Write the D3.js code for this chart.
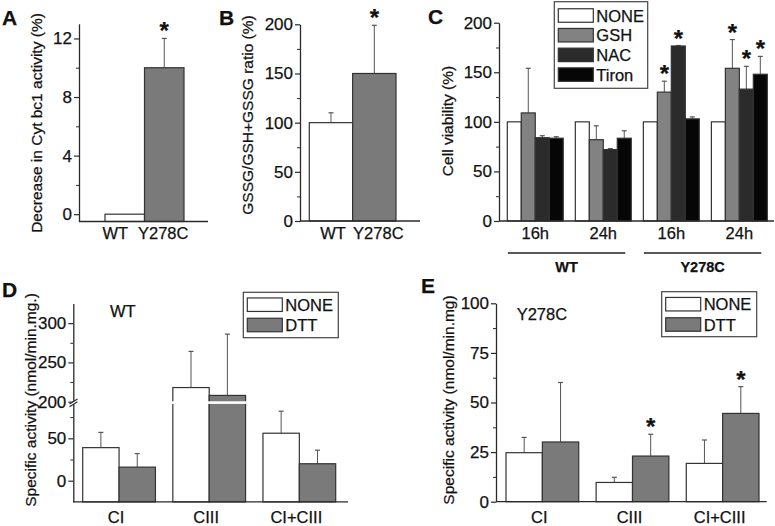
<!DOCTYPE html>
<html><head><meta charset="utf-8">
<script src="https://cdn.jsdelivr.net/npm/d3@7"></script>
<style>
body{margin:0;background:#fff}
text{font-family:"Liberation Sans",Arial,sans-serif;fill:#111;stroke:#111;stroke-width:0.25px}
</style></head><body>
<svg id="chart" width="775" height="526"></svg>
<script>
// ---------------- DATA ----------------
// Panel A
const aCategories = ["WT", "Y278C"];
const aValues = [0, 10];
const aErrors = [0, 2];
const aStars = [false, true];
const aTicks = [0, 4, 8, 12];
const aMinorTicks = [2, 6, 10];
// Panel B
const bCategories = ["WT", "Y278C"];
const bValues = [100, 150];
const bErrors = [10, 49];
const bStars = [false, true];
const bTicks = [0, 50, 100, 150, 200];
const bMinorTicks = [25, 75, 125, 175];
// Panel C
const cTimes = ["16h", "24h", "16h", "24h"];
const cStrains = ["WT", "Y278C"];
const cSeries = ["NONE", "GSH", "NAC", "Tiron"];
const cNone = [100, 100, 100, 100];
const cGsh = [109, 82, 130, 154];
const cNac = [84, 72, 176.5, 133];
const cTiron = [83.5, 83.5, 103, 148];
const cNoneErr = [0, 0, 0, 0];
const cGshErr = [45, 14, 11, 29];
const cNacErr = [2, 1, 0.5, 23];
const cTironErr = [1.5, 7.5, 2, 18];
const cNoneStars = [false, false, false, false];
const cGshStars = [false, false, true, true];
const cNacStars = [false, false, true, true];
const cTironStars = [false, false, false, true];
const cTicks = [0, 50, 100, 150, 200];
const cMinorTicks = [25, 75, 125, 175];
// Panel D (WT)
const dCategories = ["CI", "CIII", "CI+CIII"];
const dSeries = ["NONE", "DTT"];
const dNone = [39, 218, 56];
const dDtt = [16, 208, 20];
const dNoneErr = [18, 46, 26];
const dDttErr = [16, 78, 16];
const dTicks = [0, 50, 200, 250, 300];
const dMinorTicks = [25, 75, 225, 275];
// Panel E (Y278C)
const eCategories = ["CI", "CIII", "CI+CIII"];
const eSeries = ["NONE", "DTT"];
const eNone = [24.7, 9.7, 19.3];
const eDtt = [30.1, 23, 44.5];
const eNoneErr = [7.7, 2.6, 11.8];
const eDttErr = [30, 11, 13.5];
const eNoneStars = [false, false, false];
const eDttStars = [false, true, true];
const eTicks = [0, 25, 50, 75, 100];
const eMinorTicks = [12.5, 37.5, 62.5, 87.5];

// ---------------- STYLE ----------------
const fillOf = {NONE: "#ffffff", GSH: "#828282", NAC: "#2b2b2b", Tiron: "#060606", DTT: "#7a7a7a", WT: "#ffffff", Y278C: "#7a7a7a"};
const axisColor = "#2a2a2a";
const barStroke = "#333";
const errColor = "#555";

const svg = d3.select("#chart");

function yAxis(g, x, y, ticks, minor) {
  const ax = g.append("g").attr("transform", `translate(${x},0)`)
    .call(d3.axisLeft(y).tickValues(ticks).tickSize(5).tickSizeOuter(0).tickPadding(2).tickFormat(d3.format("d")));
  ax.select(".domain").attr("stroke", axisColor).attr("stroke-width", 1.3);
  ax.selectAll(".tick line").attr("stroke", axisColor).attr("stroke-width", 1.2);
  ax.selectAll(".tick text").attr("font-size", 17).attr("font-family", "Liberation Sans, Arial, sans-serif").attr("fill", "#111");
  const mn = g.append("g").attr("transform", `translate(${x},0)`)
    .call(d3.axisLeft(y).tickValues(minor).tickSize(3).tickFormat(""));
  mn.select(".domain").remove();
  mn.selectAll(".tick line").attr("stroke", axisColor).attr("stroke-width", 1);
  return ax;
}
function xLine(g, x1, x2, yy) {
  g.append("line").attr("x1", x1).attr("x2", x2).attr("y1", yy).attr("y2", yy)
    .attr("stroke", axisColor).attr("stroke-width", 1.3);
}
function bar(g, x, w, y, base, v, err, star, fill) {
  if (err > 0) {
    const top = y(v + err), cx = x + w / 2;
    g.append("line").attr("x1", cx).attr("x2", cx).attr("y1", y(v)).attr("y2", top).attr("stroke", errColor).attr("stroke-width", 1);
    g.append("line").attr("x1", cx - 2.5).attr("x2", cx + 2.5).attr("y1", top).attr("y2", top).attr("stroke", errColor).attr("stroke-width", 1.2);
  }
  g.append("rect").attr("x", x).attr("y", y(v)).attr("width", w).attr("height", base - y(v))
    .attr("fill", fill).attr("stroke", barStroke).attr("stroke-width", 1.2);
  if (star) {
    g.append("text").attr("x", x + w / 2).attr("y", y(v + err) + 1).attr("text-anchor", "middle")
      .attr("font-size", 24).attr("font-weight", "bold").text("*");
  }
}
function yLabel(g, cx, cy, txt, size) {
  return g.append("text").attr("transform", `translate(${cx},${cy}) rotate(-90)`).attr("text-anchor", "middle")
    .attr("dy", "0.35em").attr("font-size", size).text(txt);
}
function letter(g, x, y, t) {
  return g.append("text").attr("x", x).attr("y", y).attr("font-size", 21).attr("font-weight", "bold").text(t);
}
function catLabel(g, x, y, t, size) {
  return g.append("text").attr("x", x).attr("y", y).attr("text-anchor", "middle").attr("font-size", size || 16.5).text(t);
}
function legend(g, x, y, w, h, rows, rowY, sw) {
  g.append("rect").attr("x", x).attr("y", y).attr("width", w).attr("height", h).attr("fill", "#fff").attr("stroke", "#444").attr("stroke-width", 1.2);
  rows.forEach((r, i) => {
    g.append("rect").attr("x", x + 4).attr("y", rowY[i] - sw / 2).attr("width", 35).attr("height", sw)
      .attr("fill", fillOf[r]).attr("stroke", barStroke).attr("stroke-width", 1.2);
    g.append("text").attr("x", x + 42).attr("y", rowY[i] + 6).attr("font-size", 16.5).text(r);
  });
}

// ---------------- PANEL A ----------------
{
  const g = svg.append("g");
  const y = d3.scaleLinear().domain([-0.5, 13]).range([221.5, 23.8]);
  const x = d3.scaleBand().domain(aCategories).range([105, 184]);
  const base = y(-0.5);
  aCategories.forEach((c, i) => bar(g, x(c), x.bandwidth(), y, base, aValues[i], aErrors[i], aStars[i], fillOf[c]));
  yAxis(g, 79, y, aTicks, aMinorTicks);
  xLine(g, 79, 208, base);
  const aShift = [-9.5, -1];
  aCategories.forEach((c, i) => catLabel(g, x(c) + x.bandwidth() / 2 + aShift[i], 238.5, c));
  yLabel(g, 37, 123, "Decrease in Cyt bc1 activity (%)", 15.5);
  letter(g, 2, 25, "A");
}
// ---------------- PANEL B ----------------
{
  const g = svg.append("g");
  const y = d3.scaleLinear().domain([0, 200]).range([221, 24.3]);
  const x = d3.scaleBand().domain(bCategories).range([309.3, 396]);
  const base = y(0);
  bCategories.forEach((c, i) => bar(g, x(c), x.bandwidth(), y, base, bValues[i], bErrors[i], bStars[i], fillOf[c]));
  yAxis(g, 300, y, bTicks, bMinorTicks);
  xLine(g, 300, 420, base);
  const bShift = [2, 4];
  bCategories.forEach((c, i) => catLabel(g, x(c) + x.bandwidth() / 2 + bShift[i], 238.5, c));
  yLabel(g, 248, 115, "GSSG/GSH+GSSG ratio (%)", 15.5);
  letter(g, 219, 25, "B");
}
// ---------------- PANEL C ----------------
{
  const g = svg.append("g");
  const y = d3.scaleLinear().domain([0, 200]).range([221, 22.7]);
  const keys = cTimes.map((t, i) => i);
  const x = d3.scaleBand().domain(keys).range([501.25, 773.35]).paddingInner(0.178).paddingOuter(0.089);
  const xs = d3.scaleBand().domain(cSeries).range([0, x.bandwidth()]);
  const base = y(0);
  const vals = {NONE: cNone, GSH: cGsh, NAC: cNac, Tiron: cTiron};
  const errs = {NONE: cNoneErr, GSH: cGshErr, NAC: cNacErr, Tiron: cTironErr};
  const stars = {NONE: cNoneStars, GSH: cGshStars, NAC: cNacStars, Tiron: cTironStars};
  keys.forEach(k => cSeries.forEach(s =>
    bar(g, x(k) + xs(s), xs.bandwidth(), y, base, vals[s][k], errs[s][k], stars[s][k], fillOf[s])));
  yAxis(g, 499, y, cTicks, cMinorTicks);
  xLine(g, 499, 774, base);
  keys.forEach(k => catLabel(g, x(k) + x.bandwidth() / 2, 239, cTimes[k]));
  cStrains.forEach((s, j) => {
    const x1 = x(keys[2 * j]) + 0.5, x2 = x(keys[2 * j + 1]) + x.bandwidth() - 6;
    g.append("line").attr("x1", x1).attr("x2", x2).attr("y1", 253).attr("y2", 253).attr("stroke", "#222").attr("stroke-width", 1.4);
    catLabel(g, (x1 + x2) / 2, 271.5, s, 14.5).attr("font-weight", "bold");
  });
  yLabel(g, 448, 121, "Cell viability (%)", 15.5);
  letter(g, 428, 24, "C");
  legend(g, 554.3, 1.7, 93.4, 86.6, cSeries, [15.5, 35.2, 54.9, 74.6], 13.5);
}
// ---------------- PANEL D ----------------
{
  const g = svg.append("g");
  const y = d3.scaleLinear().domain([-25, 92, 200, 325]).range([501.9, 402.7, 401.7, 303.5]);
  const x = d3.scaleBand().domain(dCategories).range([74, 344.4]).paddingInner(0.193).paddingOuter(0.0965);
  const xs = d3.scaleBand().domain(dSeries).range([0, x.bandwidth()]);
  const base = y(-25);
  const vals = {NONE: dNone, DTT: dDtt}, errs = {NONE: dNoneErr, DTT: dDttErr};
  dCategories.forEach((c, i) => dSeries.forEach(s =>
    bar(g, x(c) + xs(s), xs.bandwidth(), y, base, vals[s][i], errs[s][i], false, fillOf[s])));
  // scale break across bars that cross it
  dCategories.forEach((c, i) => {
    if (d3.max(dSeries, s => vals[s][i]) > 92) {
      g.append("rect").attr("x", x(c) - 1).attr("y", 401.3).attr("width", x.bandwidth() + 2).attr("height", 2.6).attr("fill", "#fff");
    }
  });
  yAxis(g, 73.3, y, dTicks, dMinorTicks);
  xLine(g, 73.3, 348, base);
  // break mark on axis
  g.append("polygon").attr("points", "69.5,404.5 77.5,399.5 77.5,402 69.5,407").attr("fill", "#fff");
  g.append("line").attr("x1", 69.5).attr("y1", 404).attr("x2", 77.5).attr("y2", 399).attr("stroke", axisColor).attr("stroke-width", 1.1);
  g.append("line").attr("x1", 69.5).attr("y1", 406.8).attr("x2", 77.5).attr("y2", 401.8).attr("stroke", axisColor).attr("stroke-width", 1.1);
  dCategories.forEach(c => catLabel(g, x(c) + x.bandwidth() / 2 - 3, 523, c));
  yLabel(g, 30.7, 400, "Specific activity (nmol/min.mg.)", 15.5);
  letter(g, 2, 297, "D");
  g.append("text").attr("x", 110).attr("y", 316.5).attr("font-size", 16.5).text("WT");
  legend(g, 243.3, 292.3, 95, 45.4, dSeries, [304.7, 325], 13.5);
}
// ---------------- PANEL E ----------------
{
  const g = svg.append("g");
  const y = d3.scaleLinear().domain([0, 100]).range([501.7, 303.3]);
  const x = d3.scaleBand().domain(eCategories).range([497.3, 767.7]).paddingInner(0.193).paddingOuter(0.0965);
  const xs = d3.scaleBand().domain(eSeries).range([0, x.bandwidth()]);
  const base = y(0);
  const vals = {NONE: eNone, DTT: eDtt}, errs = {NONE: eNoneErr, DTT: eDttErr}, stars = {NONE: eNoneStars, DTT: eDttStars};
  eCategories.forEach((c, i) => eSeries.forEach(s =>
    bar(g, x(c) + xs(s), xs.bandwidth(), y, base, vals[s][i], errs[s][i], stars[s][i], fillOf[s])));
  yAxis(g, 496, y, eTicks, eMinorTicks);
  xLine(g, 496, 766.7, base);
  eCategories.forEach(c => catLabel(g, x(c) + x.bandwidth() / 2 - 3, 523, c));
  yLabel(g, 448.3, 400, "Specific activity (nmol/min.mg)", 15.5);
  letter(g, 421, 293, "E");
  g.append("text").attr("x", 516.7).attr("y", 320).attr("font-size", 16.5).text("Y278C");
  legend(g, 661.7, 291.7, 95, 45, eSeries, [304.2, 324.5], 13.5);
}
</script></body></html>
